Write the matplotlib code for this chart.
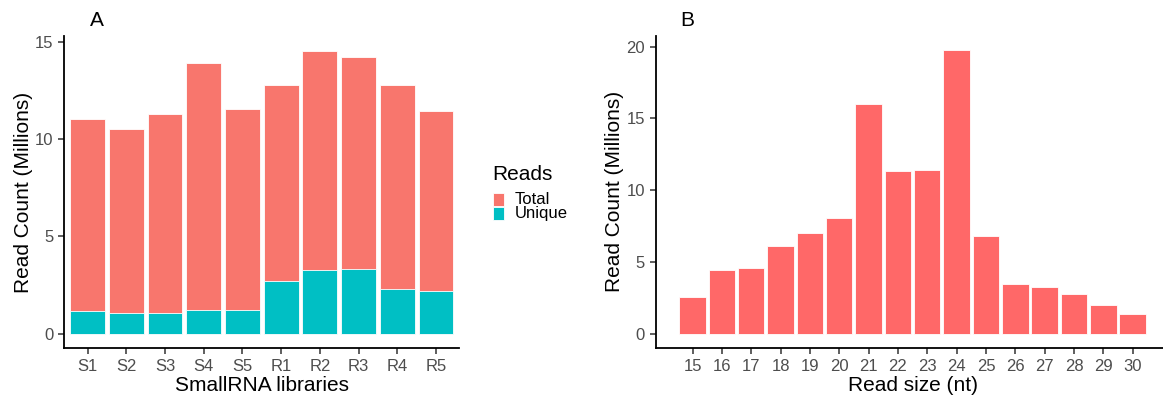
import matplotlib.pyplot as plt
from matplotlib.patches import Rectangle
import numpy as np

plt.rcParams['font.family'] = ['Liberation Sans', 'DejaVu Sans']

# Panel A data (millions of reads)
libraries = ["S1", "S2", "S3", "S4", "S5", "R1", "R2", "R3", "R4", "R5"]
total_reads = [11.05, 10.51, 11.29, 13.93, 11.56, 12.80, 14.57, 14.26, 12.78, 11.46]
unique_reads = [1.17, 1.06, 1.06, 1.20, 1.22, 2.70, 3.28, 3.33, 2.27, 2.18]

# Panel B data
read_sizes = [15, 16, 17, 18, 19, 20, 21, 22, 23, 24, 25, 26, 27, 28, 29, 30]
size_counts = [2.58, 4.42, 4.60, 6.09, 6.98, 8.02, 16.0, 11.33, 11.40, 19.75,
               6.79, 3.42, 3.26, 2.79, 2.02, 1.35]

TOTAL_COL = "#F8766D"
UNIQUE_COL = "#00BFC4"
SIZE_COL = "#FF6868"
TICK_COL = "#4D4D4D"
W, H = 1163, 398


def style_axis(ax):
    for s in ["top", "right"]:
        ax.spines[s].set_visible(False)
    for s in ["left", "bottom"]:
        ax.spines[s].set_linewidth(1.3)
        ax.spines[s].set_color("black")
    ax.tick_params(axis="both", colors="#333333", labelcolor=TICK_COL,
                   labelsize=12, length=4, width=1.1, pad=4)


fig = plt.figure(figsize=(W / 100, H / 100), dpi=100)

# ---- Panel A
axA = fig.add_axes([64.3 / W, 1 - 347.7 / H, (459.2 - 64.3) / W, (347.7 - 36.5) / H])
x = np.arange(len(libraries))
axA.bar(x, total_reads, width=0.9, color=TOTAL_COL, edgecolor="white", linewidth=0.6)
axA.bar(x, unique_reads, width=0.9, color=UNIQUE_COL, edgecolor="white", linewidth=0.6)
axA.set_xticks(x)
axA.set_xticklabels(libraries)
axA.set_xlim(-0.6, len(libraries) - 0.4)
ymax = max(total_reads)
axA.set_ylim(-0.05 * ymax, ymax * 1.05)
axA.set_yticks([0, 5, 10, 15])
style_axis(axA)
axA.text(-0.1038, 0.5, "Read Count (Millions)", transform=axA.transAxes,
         rotation=90, ha="center", va="center", fontsize=15)
axA.text(0.5, -0.12, "SmallRNA libraries", transform=axA.transAxes,
         ha="center", va="center", fontsize=15)

# legend for panel A
fig.text(492.7 / W, 1 - 174 / H, "Reads", ha="left", va="center", fontsize=15)
for i, (lab, col) in enumerate([("Total", TOTAL_COL), ("Unique", UNIQUE_COL)]):
    y0 = 192.7 + i * 14
    fig.add_artist(Rectangle((492.7 / W, 1 - (y0 + 13.3) / H), 11 / W, 13.3 / H,
                             transform=fig.transFigure, facecolor=col,
                             edgecolor="white", linewidth=0.6))
    fig.text(515 / W, 1 - (y0 + 7) / H, lab, ha="left", va="center", fontsize=12)

# ---- Panel B
axB = fig.add_axes([656 / W, 1 - 347.7 / H, (1169.2 - 656) / W, (347.7 - 36) / H])
axB.bar(read_sizes, size_counts, width=0.9, color=SIZE_COL, edgecolor="white", linewidth=0.6)
lo, hi = min(read_sizes) - 0.45, max(read_sizes) + 0.45
pad = 0.05 * (hi - lo)
axB.set_xlim(lo - pad, hi + pad)
axB.set_xticks(read_sizes)
bmax = max(size_counts)
axB.set_ylim(-0.05 * bmax, bmax * 1.05)
axB.set_yticks([0, 5, 10, 15, 20])
style_axis(axB)
axB.text(-0.0818, 0.5, "Read Count (Millions)", transform=axB.transAxes,
         rotation=90, ha="center", va="center", fontsize=15)
axB.text(0.5, -0.12, "Read size (nt)", transform=axB.transAxes,
         ha="center", va="center", fontsize=15)

# panel letters
fig.text(97 / W, 1 - 21 / H, "A", ha="center", va="center", fontsize=15)
fig.text(687 / W, 1 - 21 / H, "B", ha="center", va="center", fontsize=15)

plt.savefig("out.png", dpi=100)
